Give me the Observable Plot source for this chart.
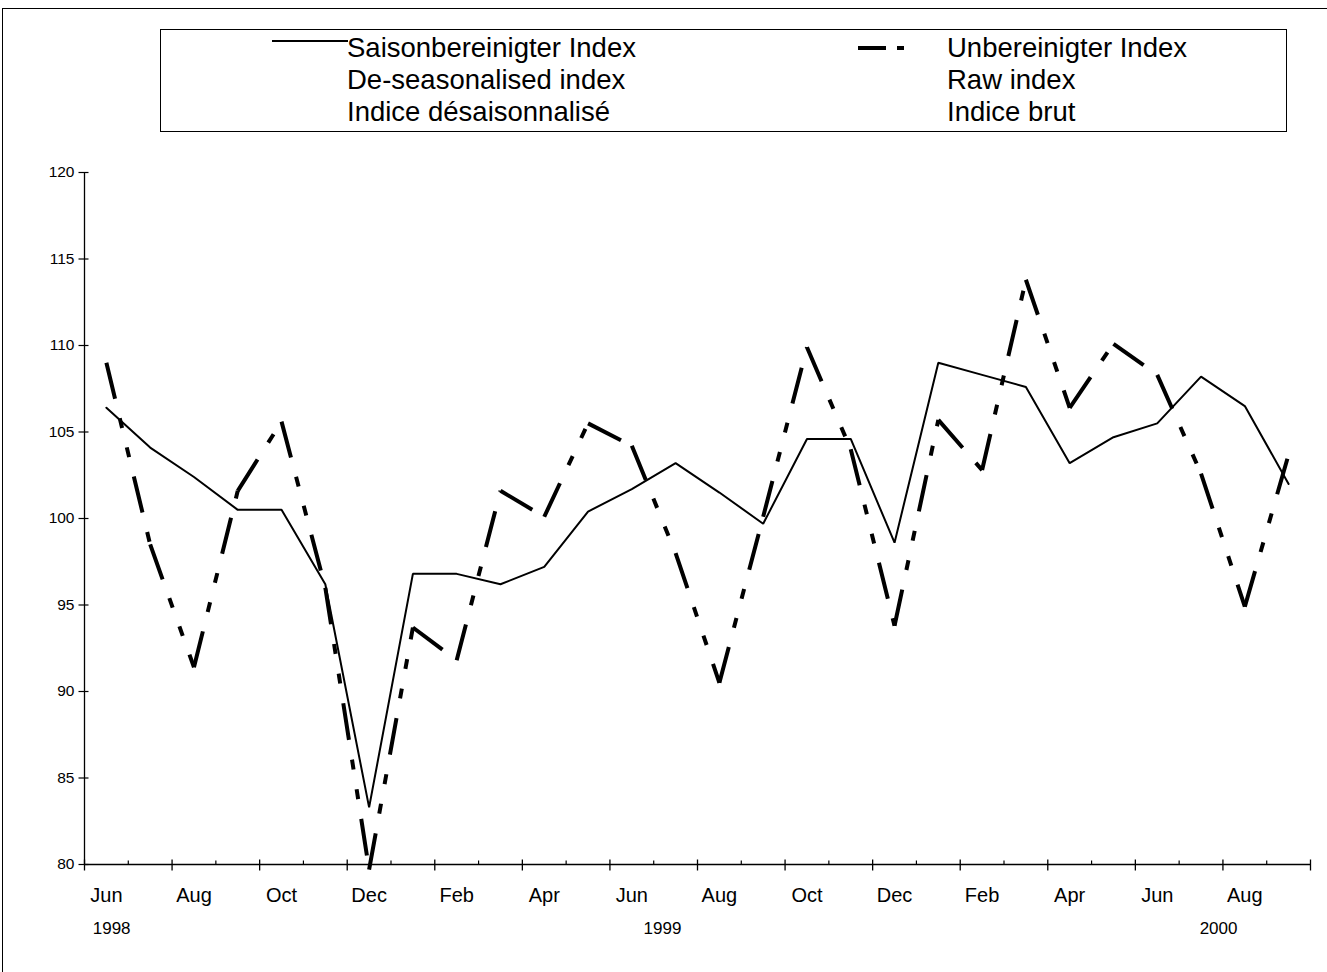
<!DOCTYPE html>
<html><head><meta charset="utf-8">
<script src="https://cdn.jsdelivr.net/npm/d3@7"></script>
<script src="https://cdn.jsdelivr.net/npm/@observablehq/plot@0.6"></script>
<style>
body{margin:0;background:#fff;}
#wrap{position:relative;width:1327px;height:972px;overflow:hidden;font-family:"Liberation Sans",Arial,sans-serif;color:#000;}
#outer{position:absolute;left:2px;top:8px;width:1400px;height:1000px;border-left:1.5px solid #000;border-top:1.5px solid #000;}
#legend{position:absolute;left:160px;top:29px;width:1127px;height:103px;border:1px solid #000;box-sizing:border-box;}
.ltext{position:absolute;top:32px;font-size:27.5px;line-height:32px;white-space:nowrap;}
#chart{position:absolute;left:0;top:0;}
</style></head>
<body><div id="wrap">
<div id="outer"></div>
<div id="chart"></div>
<div id="legend"></div>
<div id="solidSample" style="position:absolute;left:272px;top:40px;width:76px;border-top:2px solid #000;"></div>
<svg id="dashSample" style="position:absolute;left:858px;top:44px;" width="48" height="8"><line x1="0" y1="4" x2="48" y2="4" stroke="#000" stroke-width="4" stroke-dasharray="28 11 7 50"/></svg>
<div class="ltext" id="leftText" style="left:347px;"></div>
<div class="ltext" id="rightText" style="left:947px;"></div>
</div>
<script>
// ---- data ----
const months = ["Jun","Jul","Aug","Sep","Oct","Nov","Dec",
  "Jan","Feb","Mar","Apr","May","Jun","Jul","Aug","Sep","Oct","Nov","Dec",
  "Jan","Feb","Mar","Apr","May","Jun","Jul","Aug","Sep"];
const seasonal = [106.4,104.1,102.4,100.5,100.5,96.2,83.3,
  96.8,96.8,96.2,97.2,100.4,101.7,103.2,101.5,99.7,104.6,104.6,98.6,
  109.0,108.3,107.6,103.2,104.7,105.5,108.2,106.5,102.0];
const raw = [109.0,98.5,91.4,101.6,105.6,96.0,79.7,
  93.7,91.8,101.6,100.1,105.5,104.2,98.0,90.5,100.1,109.9,104.0,93.8,
  105.7,102.8,113.8,106.4,110.1,108.3,102.6,94.9,103.7];
const yTicks = [80,85,90,95,100,105,110,115,120];
const monthLabelIdx = [0,2,4,6,8,10,12,14,16,18,20,22,24,26];
const yearLabels = ["1998","1999","2000"];
const yearPos = [0.12,12.7,25.4];
const legendLeft = ["Saisonbereinigter Index","De-seasonalised index","Indice désaisonnalisé"];
const legendRight = ["Unbereinigter Index","Raw index","Indice brut"];

// ---- legend ----
document.getElementById("leftText").innerHTML = legendLeft.join("<br>");
document.getElementById("rightText").innerHTML = legendRight.join("<br>");

// ---- chart ----
const data = months.map((m,i)=>({i, m, s: seasonal[i], r: raw[i]}));
const segs = d3.pairs(data).map(([a,b])=>({i1:a.i, r1:a.r, i2:b.i, r2:b.r}));
const bounds = d3.range(0, months.length + 1).map(k => ({k, x: k - 0.5}));
const sym = (x0,y0,x1,y1) => ({draw(ctx){ctx.moveTo(x0,y0);ctx.lineTo(x1,y1);}});

const plot = Plot.plot({
  width: 1327, height: 972,
  marginLeft: 84, marginRight: 17, marginTop: 172, marginBottom: 108,
  style: {fontFamily: "Liberation Sans, Arial, sans-serif", background: "transparent", color: "#000"},
  x: {type: "linear", domain: [-0.5, months.length - 0.5], axis: null},
  y: {domain: [80, 120], axis: null},
  marks: [
    Plot.ruleX([-0.5], {y1: 80, y2: 120, stroke: "#000", strokeWidth: 1.3}),
    Plot.ruleY([80], {x1: -0.5, x2: months.length - 0.5, stroke: "#000", strokeWidth: 1.3}),
    Plot.dot(yTicks, {x: () => -0.5, y: d => d, symbol: sym(-6,0,4,0), fill: "none", stroke: "#000", strokeWidth: 1.2}),
    Plot.dot(bounds.filter(d => d.k % 2 === 0), {x: "x", y: () => 80, symbol: sym(0,-5,0,6), fill: "none", stroke: "#000", strokeWidth: 1.3}),
    Plot.dot(bounds.filter(d => d.k % 2 === 1), {x: "x", y: () => 80, symbol: sym(0,-4,0,0), fill: "none", stroke: "#000", strokeWidth: 1.2}),
    Plot.text(yTicks, {x: () => -0.5, y: d => d, text: d => String(d), textAnchor: "end", dx: -10, fontSize: 15.5}),
    Plot.text(monthLabelIdx, {x: d => d, y: () => 80, text: d => months[d], dy: 31, fontSize: 20}),
    Plot.text(yearLabels, {x: (d,i) => yearPos[i], y: () => 80, text: d => d, dy: 64, fontSize: 17}),
    Plot.line(data, {x: "i", y: "s", stroke: "#000", strokeWidth: 2, strokeLinejoin: "miter"}),
    Plot.link(segs, {x1: "i1", y1: "r1", x2: "i2", y2: "r2", stroke: "#000", strokeWidth: 4, strokeDasharray: "37,20,10,20,10,20"})
  ]
});
document.getElementById("chart").append(plot);
</script>
</body></html>
